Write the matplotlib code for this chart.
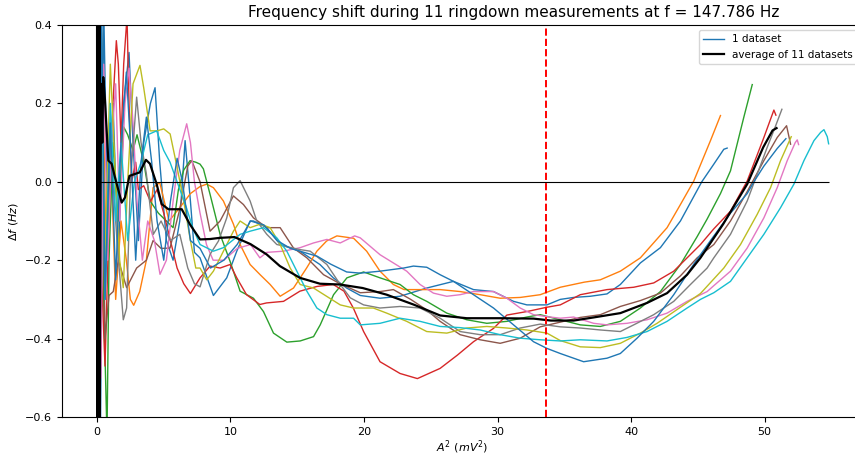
import matplotlib
matplotlib.use("Agg")
import matplotlib.pyplot as plt

# values (A^2 in mV^2, delta f in Hz)
blue_a_x = [0.25, 0.5, 0.8, 1.2, 1.6, 2.0, 2.4, 2.7, 3.1, 3.5, 4.0, 4.35, 4.7, 5.2, 5.7, 6.2, 6.6, 7.0, 7.3,
            7.72, 8.72, 9.72, 10.47, 11.47, 11.72, 12.72, 13.72, 15.2, 16.7, 17.7, 18.7, 19.72, 21.2, 22.7,
            24.7, 26.7, 28.2, 29.7, 31.2, 32.2, 33.7, 34.7, 35.7, 36.95, 38.2, 39.2, 40.7, 42.2, 43.7, 44.5,
            45.3, 46.2, 46.95, 47.2]
blue_a_y = [-0.7, 0.45, -0.1, 0.2, -0.2, 0.2, 0.33, 0.1, -0.15, 0.1, 0.2, 0.24, 0.05, -0.15, -0.2, -0.1, 0.105,
            -0.05, -0.18, -0.194, -0.29, -0.245, -0.177, -0.1, -0.1, -0.117, -0.16, -0.177, -0.211, -0.245,
            -0.271, -0.29, -0.297, -0.292, -0.271, -0.254, -0.275, -0.28, -0.305, -0.314, -0.314, -0.3, -0.295,
            -0.292, -0.286, -0.262, -0.207, -0.168, -0.1, -0.05, 0.0, 0.045, 0.083, 0.086]

blue_b_x = [0.2, 0.35, 0.6, 1.0, 1.4, 1.8, 2.2, 2.5, 2.9, 3.3, 3.7, 4.1, 4.5, 5.0, 5.5, 6.0, 6.4, 7.0, 7.72,
            8.5, 9.5, 10.5, 11.5, 12.5, 13.5, 14.5, 15.5, 16.5, 17.5, 18.7, 19.72, 21.2, 22.97, 23.7, 24.7,
            25.7, 26.7, 28.2, 29.7, 31.2, 32.7, 33.7, 34.7, 36.45, 38.2, 39.2, 40.45, 41.7, 43.2, 44.7, 45.95,
            47.45, 48.7, 49.2, 49.95, 50.95, 51.6]
blue_b_y = [-0.7, 0.45, -0.3, 0.15, -0.25, 0.1, 0.28, 0.1, -0.2, 0.05, 0.165, 0.05, -0.1, -0.2, -0.05, 0.06,
            0.0, -0.15, -0.17, -0.22, -0.2, -0.16, -0.1, -0.11, -0.15, -0.17, -0.18, -0.19, -0.21, -0.23,
            -0.233, -0.228, -0.22, -0.215, -0.218, -0.237, -0.254, -0.288, -0.322, -0.365, -0.408, -0.425,
            -0.438, -0.459, -0.45, -0.438, -0.399, -0.356, -0.288, -0.21, -0.15, -0.08, -0.03, 0.0, 0.04,
            0.085, 0.11]

orange_x = [0.15, 0.4, 0.7, 1.0, 1.4, 1.8, 2.2, 2.5, 2.75, 3.2, 3.7, 4.2, 4.7, 5.4, 6.2, 7.0, 7.72, 8.22,
            8.72, 9.47, 10.22, 10.72, 11.47, 12.22, 12.97, 13.72, 14.72, 15.7, 16.47, 17.2, 17.97, 19.22,
            20.2, 21.2, 22.2, 23.0, 24.2, 25.7, 27.2, 28.7, 30.2, 31.7, 33.2, 34.7, 36.5, 37.7, 39.2, 40.7,
            42.7, 43.7, 44.7, 45.95, 46.7]
orange_y = [0.45, 0.3, -0.2, 0.1, -0.3, -0.1, -0.2, -0.3, -0.315, -0.28, -0.2, -0.015, -0.002, -0.1, -0.066,
            -0.03, -0.012, -0.006, -0.015, -0.049, -0.108, -0.16, -0.211, -0.237, -0.262, -0.292, -0.271,
            -0.22, -0.177, -0.151, -0.138, -0.144, -0.177, -0.228, -0.262, -0.275, -0.275, -0.275, -0.28,
            -0.288, -0.297, -0.295, -0.288, -0.269, -0.256, -0.25, -0.228, -0.194, -0.117, -0.058, 0.002,
            0.105, 0.169]

green_x = [0.3, 0.5, 0.75, 0.9, 1.2, 1.6, 2.0, 2.3, 2.7, 3.0, 3.5, 4.0, 4.6, 5.2, 5.7, 6.1, 6.5, 6.97, 7.4,
           7.72, 7.97, 8.47, 9.22, 9.97, 10.72, 11.72, 12.47, 13.22, 14.22, 15.22, 16.22, 16.72, 17.72, 18.72,
           19.97, 21.2, 22.7, 23.7, 24.7, 26.2, 27.7, 29.2, 30.7, 32.2, 33.2, 34.7, 36.2, 37.7, 39.2, 40.7,
           42.2, 43.7, 44.95, 45.7, 46.7, 47.45, 48.45, 49.08]
green_y = [0.45, -0.3, -0.65, -0.2, 0.1, -0.1, 0.14, 0.12, 0.08, 0.12, 0.05, -0.05, -0.08, -0.1, -0.117,
           -0.02, 0.03, 0.054, 0.05, 0.045, 0.033, -0.032, -0.134, -0.203, -0.279, -0.297, -0.331, -0.386,
           -0.409, -0.406, -0.395, -0.365, -0.288, -0.245, -0.23, -0.245, -0.262, -0.288, -0.305, -0.335,
           -0.352, -0.361, -0.356, -0.345, -0.339, -0.352, -0.365, -0.369, -0.356, -0.322, -0.28, -0.211,
           -0.14, -0.095, -0.03, 0.028, 0.165, 0.248]

red_x = [0.1, 0.3, 0.6, 0.9, 1.2, 1.45, 1.6, 1.8, 2.0, 2.25, 2.4, 2.6, 2.9, 3.1, 3.5, 4.0, 4.5, 5.0, 5.5, 6.0,
         6.5, 7.0, 7.72, 8.47, 9.22, 9.97, 10.47, 11.2, 12.2, 12.7, 13.97, 15.2, 16.47, 17.7, 18.5, 19.2,
         19.97, 21.2, 22.7, 24.0, 25.7, 27.0, 28.2, 29.7, 30.7, 32.2, 33.7, 34.7, 36.2, 38.2, 40.2, 41.7,
         43.2, 44.2, 45.2, 46.2, 47.45, 48.7, 49.95, 50.7, 50.85]
red_y = [0.45, -0.2, -0.47, -0.1, 0.2, 0.36, 0.3, 0.1, 0.3, 0.42, 0.2, 0.0, 0.05, -0.02, -0.01, -0.05, -0.02,
         -0.08, -0.15, -0.22, -0.26, -0.285, -0.245, -0.215, -0.22, -0.211, -0.245, -0.288, -0.313, -0.309,
         -0.305, -0.279, -0.267, -0.262, -0.279, -0.322, -0.382, -0.459, -0.489, -0.502, -0.476, -0.442,
         -0.408, -0.374, -0.34, -0.331, -0.32, -0.314, -0.288, -0.275, -0.269, -0.258, -0.228, -0.194, -0.16,
         -0.12, -0.075, 0.002, 0.113, 0.183, 0.17]

brown_x = [0.3, 0.6, 0.9, 1.22, 1.6, 2.22, 2.97, 3.7, 4.2, 4.8, 5.47, 6.2, 6.8, 7.1, 7.72, 8.47, 9.22, 10.22,
           10.97, 11.72, 12.72, 13.72, 14.72, 15.72, 16.97, 18.2, 19.72, 21.2, 22.2, 23.5, 24.7, 25.7, 27.2,
           28.7, 30.2, 31.7, 33.2, 34.7, 36.2, 37.7, 39.2, 40.7, 42.2, 43.7, 44.95, 46.2, 47.45, 48.7, 49.95,
           50.95, 51.65, 51.95]
brown_y = [0.45, -0.4, -0.29, -0.28, -0.2, -0.27, -0.22, -0.2, -0.15, -0.17, -0.169, -0.07, 0.04, 0.054, 0.0,
           -0.126, -0.1, -0.036, -0.058, -0.092, -0.117, -0.117, -0.169, -0.194, -0.237, -0.26, -0.283, -0.28,
           -0.275, -0.3, -0.327, -0.356, -0.39, -0.403, -0.412, -0.399, -0.37, -0.358, -0.346, -0.339, -0.318,
           -0.303, -0.284, -0.24, -0.194, -0.16, -0.1, -0.025, 0.054, 0.113, 0.143, 0.096]

pink_x = [0.3, 0.5, 0.8, 1.1, 1.4, 1.7, 2.1, 2.4, 2.7, 3.0, 3.4, 3.8, 4.3, 4.72, 5.2, 5.7, 6.2, 6.72, 7.0, 7.3,
          7.72, 8.2, 8.7, 9.5, 10.5, 11.5, 12.2, 12.72, 13.97, 15.22, 16.22, 17.22, 18.22, 19.3, 19.72, 21.2,
          22.2, 23.2, 24.2, 25.2, 26.2, 27.2, 28.2, 29.7, 30.7, 31.7, 32.7, 33.7, 34.7, 35.7, 37.2, 38.2,
          39.7, 41.2, 42.7, 44.2, 45.7, 46.2, 47.45, 48.7, 49.95, 50.95, 51.7, 52.3, 52.45, 52.55]
pink_y = [-0.5, 0.3, -0.2, 0.1, 0.25, -0.1, 0.2, 0.29, 0.15, -0.05, -0.2, -0.1, -0.15, -0.236, -0.2, -0.05,
          0.08, 0.148, 0.1, 0.0, -0.08, -0.16, -0.2, -0.2, -0.17, -0.16, -0.194, -0.18, -0.177, -0.168,
          -0.156, -0.147, -0.156, -0.138, -0.143, -0.186, -0.207, -0.228, -0.262, -0.284, -0.292, -0.288,
          -0.28, -0.28, -0.297, -0.322, -0.339, -0.344, -0.348, -0.345, -0.361, -0.365, -0.361, -0.352, -0.335,
          -0.305, -0.28, -0.265, -0.228, -0.169, -0.092, -0.015, 0.054, 0.1, 0.107, 0.095]

gray_x = [0.3, 0.6, 1.0, 1.5, 1.97, 2.22, 2.5, 2.97, 3.3, 3.7, 4.22, 4.8, 5.5, 6.2, 6.8, 7.3, 7.72, 8.47, 9.1,
          9.72, 10.22, 10.72, 11.47, 11.97, 12.72, 13.47, 15.22, 15.97, 17.22, 18.22, 18.97, 19.97, 21.2,
          22.7, 24.2, 25.7, 27.2, 28.7, 30.2, 31.7, 33.2, 34.7, 36.2, 37.7, 39.2, 40.2, 41.7, 43.2, 44.45,
          45.7, 46.2, 47.45, 48.7, 50.2, 50.8, 51.3]
gray_y = [0.45, -0.3, 0.1, -0.15, -0.352, -0.322, 0.0, 0.216, 0.1, 0.02, -0.134, -0.1, -0.15, -0.134, -0.22,
          -0.26, -0.268, -0.185, -0.151, -0.092, -0.015, 0.003, -0.049, -0.1, -0.134, -0.16, -0.173, -0.177,
          -0.211, -0.262, -0.296, -0.314, -0.322, -0.318, -0.322, -0.348, -0.382, -0.39, -0.39, -0.373,
          -0.363, -0.37, -0.373, -0.378, -0.382, -0.365, -0.339, -0.305, -0.262, -0.22, -0.194, -0.134,
          -0.049, 0.088, 0.14, 0.185]

olive_x = [0.3, 0.6, 1.0, 1.4, 1.7, 1.97, 2.3, 2.7, 3.22, 3.5, 3.98, 4.5, 5.0, 5.48, 6.0, 6.5, 7.0, 7.4, 7.72,
           8.22, 8.72, 9.47, 10.22, 10.72, 11.47, 12.22, 12.97, 13.72, 14.47, 15.22, 16.22, 18.22, 19.22,
           20.7, 21.7, 23.2, 24.7, 26.2, 27.7, 29.2, 30.7, 32.2, 33.7, 34.7, 36.2, 37.7, 39.2, 40.7, 41.95,
           43.7, 45.2, 46.95, 48.2, 49.45, 50.45, 51.2, 52.0]
olive_y = [0.45, -0.2, 0.3, 0.0, -0.2, -0.27, 0.0, 0.25, 0.297, 0.24, 0.13, 0.13, 0.135, 0.122, 0.037, -0.05,
           -0.15, -0.22, -0.22, -0.25, -0.228, -0.177, -0.126, -0.1, -0.117, -0.108, -0.117, -0.16, -0.22,
           -0.262, -0.271, -0.314, -0.322, -0.322, -0.335, -0.356, -0.382, -0.386, -0.373, -0.369, -0.373,
           -0.378, -0.386, -0.405, -0.421, -0.423, -0.412, -0.386, -0.361, -0.32, -0.285, -0.22, -0.16,
           -0.083, -0.015, 0.054, 0.115]

cyan_x = [0.3, 0.6, 1.0, 1.4, 1.8, 2.3, 2.8, 3.3, 3.8, 4.47, 5.0, 5.47, 6.0, 6.7, 7.2, 7.72, 8.72, 9.47,
          10.72, 11.47, 12.47, 13.47, 14.22, 14.97, 15.72, 16.47, 17.22, 18.22, 19.22, 19.72, 21.2, 22.7,
          24.2, 25.7, 27.2, 28.7, 30.2, 31.7, 33.2, 34.7, 36.2, 38.2, 39.7, 41.2, 42.7, 44.2, 45.2, 46.2,
          47.45, 48.7, 49.95, 51.2, 52.2, 52.95, 53.7, 54.2, 54.45, 54.7, 54.8]
cyan_y = [0.45, -0.3, 0.2, -0.1, 0.1, -0.15, 0.0, 0.05, 0.12, 0.13, 0.08, 0.05, 0.0, -0.066, -0.12, -0.16,
          -0.177, -0.168, -0.134, -0.126, -0.117, -0.143, -0.177, -0.228, -0.279, -0.322, -0.339, -0.348,
          -0.348, -0.365, -0.361, -0.348, -0.356, -0.369, -0.372, -0.378, -0.39, -0.399, -0.403, -0.406,
          -0.403, -0.406, -0.397, -0.382, -0.356, -0.322, -0.3, -0.283, -0.254, -0.194, -0.134, -0.066,
          -0.006, 0.054, 0.105, 0.126, 0.133, 0.115, 0.097]

avg_x = [0.0, 0.03, 0.06, 0.09, 0.12, 0.15, 0.18, 0.21, 0.25, 0.3, 0.4, 0.47, 0.6, 0.85, 1.1, 1.35, 1.85, 2.1,
         2.43, 2.85, 3.2, 3.67, 3.97, 4.47, 4.85, 5.35, 6.35, 6.97, 7.72, 8.47, 9.2, 10.3, 11.5, 12.7, 13.7,
         15.2, 16.7, 18.2, 19.9, 21.7, 23.7, 25.7, 27.7, 30.2, 32.7, 34.0, 35.7, 37.2, 39.2, 41.2, 42.7,
         44.2, 45.2, 46.9, 48.7, 49.9, 50.6, 50.9]
avg_y = [0.7, -0.8, 0.7, -0.8, 0.6, -0.7, 0.5, -0.6, -0.16, 0.25, 0.1, 0.267, 0.208, 0.054, 0.046, 0.011,
         -0.053, -0.04, 0.015, 0.02, 0.024, 0.056, 0.046, -0.006, -0.057, -0.07, -0.07, -0.109, -0.147,
         -0.146, -0.143, -0.141, -0.159, -0.185, -0.215, -0.245, -0.26, -0.262, -0.271, -0.288, -0.313,
         -0.341, -0.348, -0.348, -0.349, -0.354, -0.354, -0.346, -0.335, -0.309, -0.284, -0.237, -0.194,
         -0.108, -0.006, 0.088, 0.131, 0.137]

f0 = 147.786
a2_cut = 33.66

datasets = [
    (blue_a_x, blue_a_y, "C0"),
    (orange_x, orange_y, "C1"),
    (green_x, green_y, "C2"),
    (red_x, red_y, "C3"),
    (brown_x, brown_y, "C5"),
    (pink_x, pink_y, "C6"),
    (gray_x, gray_y, "C7"),
    (olive_x, olive_y, "C8"),
    (cyan_x, cyan_y, "C9"),
    (blue_b_x, blue_b_y, "C0"),
]

fig = plt.figure(figsize=(8.55, 4.57), dpi=100)
ax = fig.add_axes([62 / 855, 40 / 457, 800 / 855, 392 / 457])

for i, (xs, ys, c) in enumerate(datasets):
    ax.plot(xs, ys, color=c, linewidth=1.0, label="1 dataset" if i == 0 else None)

ax.plot(avg_x, avg_y, color="black", linewidth=1.6, label="average of 11 datasets")
ax.hlines(0, 0, max(cyan_x), color="black", linewidth=0.8)
ax.axvline(a2_cut, color="red", linestyle="--", linewidth=1.4)

ax.set_xlim(-2.62, 57.3)
ax.set_ylim(-0.6, 0.4)
ax.set_yticks([-0.6, -0.4, -0.2, 0.0, 0.2, 0.4])
ax.set_xticks([0, 10, 20, 30, 40, 50])
ax.tick_params(labelsize=8)
# the original title sits a bit right of the axes centre (figure was cropped)
ax.set_title("Frequency shift during 11 ringdown measurements at f = %.3f Hz" % f0,
             fontsize=11, x=0.564)
ax.set_xlabel(r"$A^2\ (mV^2)$", fontsize=8, labelpad=1)
ax.set_ylabel(r"$\Delta f\ (Hz)$", fontsize=8)
ax.legend(loc="upper right", fontsize=7.5)

fig.savefig("out.png", dpi=100)
